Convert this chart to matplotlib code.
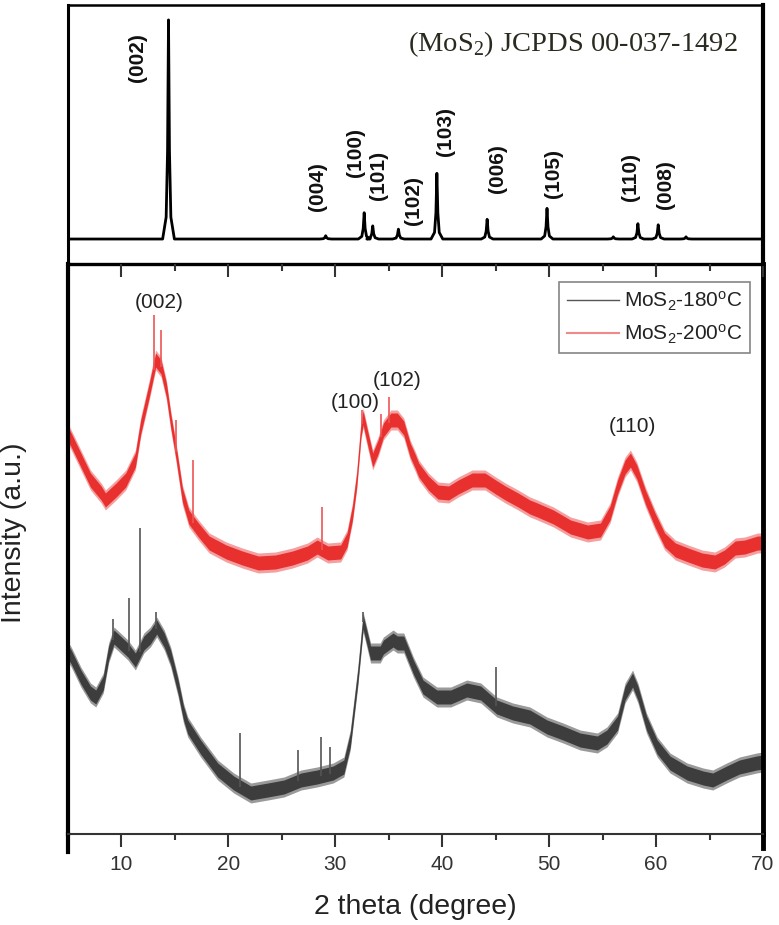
import matplotlib
matplotlib.use("Agg")
import matplotlib.pyplot as plt
from matplotlib.lines import Line2D
import numpy as np

plt.rcParams['font.family'] = ['Liberation Sans', 'DejaVu Sans']
plt.rcParams['mathtext.fontset'] = 'custom'
plt.rcParams['mathtext.rm'] = 'Liberation Sans'
plt.rcParams['mathtext.it'] = 'Liberation Sans:italic'
plt.rcParams['mathtext.bf'] = 'Liberation Sans:bold'
plt.rcParams['mathtext.cal'] = 'Liberation Serif'

# ---------------- data ----------------
# Reference pattern (JCPDS 00-037-1492), relative intensities
ref_pos = [14.4, 29.1, 32.7, 33.5, 35.9, 39.5, 44.2, 49.8, 56.0, 58.3, 60.2, 62.8]
ref_int = [100, 1.5, 12, 6, 4.5, 30, 9, 14, 1, 7, 6.5, 1]
ref_labels = ['(002)', '(004)', '(100)', '(101)', '(102)', '(103)',
              '(006)', '(105)', '(110)', '(008)']

# MoS2-200C (red) trace, 2theta and intensity (a.u.)
red_x = [5.0, 5.3, 6.2, 7.1, 8.1, 8.5, 9.5, 10.4, 11.3, 11.8, 12.6, 13.2, 13.7,
         14.2, 14.6, 15.1, 15.7, 16.3, 17.2, 18.2, 19.8, 21.3, 22.8, 24.4, 26.0,
         27.4, 28.3, 29.3, 30.5, 31.1, 31.6, 32.0, 32.4, 32.6, 33.0, 33.5, 34.0,
         34.5, 35.2, 35.8, 36.4, 37.0, 37.5, 37.8, 38.7, 39.6, 40.6, 41.5, 42.8,
         44.0, 45.0, 45.9, 47.1, 48.2, 48.9, 50.4, 52.0, 53.6, 54.8, 55.7, 56.4,
         57.1, 57.6, 58.2, 59.0, 59.9, 60.8, 61.8, 63.0, 64.3, 65.5, 66.4, 67.4,
         68.3, 69.5, 70.0]
red_y = [400, 394, 374, 354, 341, 334, 344, 354, 374, 407, 444, 474, 467,
         444, 414, 382, 339, 317, 304, 291, 282, 276, 271, 272, 276,
         281, 287, 281, 282, 294, 321, 354, 404, 416, 397, 374, 387,
         404, 414, 414, 406, 384, 372, 364, 351, 342, 341, 347, 354,
         354, 347, 341, 334, 327, 324, 317, 307, 302, 304, 321, 347,
         367, 374, 362, 337, 314, 294, 284, 279, 274, 272, 277, 286,
         287, 291, 291]
red_spike_x = [13.0, 13.7, 15.1, 16.7, 28.8, 32.5, 34.3, 35.0]
red_spike_y = [519, 504, 414, 374, 327, 424, 420, 437]

# MoS2-180C (grey) trace
gray_x = [5.0, 5.3, 6.2, 7.1, 7.6, 8.3, 8.8, 9.3, 9.9, 10.6, 11.3, 12.1, 12.7,
          13.3, 14.0, 14.6, 15.3, 15.8, 16.2, 17.4, 19.0, 20.5, 22.1, 23.7,
          25.2, 26.8, 28.3, 29.8, 30.8, 31.4, 32.1, 32.6, 33.3, 34.2, 34.5,
          35.4, 35.8, 36.4, 37.3, 38.2, 39.5, 40.8, 42.3, 43.6, 45.1, 46.6,
          48.2, 49.8, 51.3, 52.9, 54.5, 55.4, 56.4, 57.1, 57.8, 58.3, 59.1,
          60.1, 61.3, 62.9, 64.4, 65.3, 66.6, 67.8, 69.4, 70.0]
gray_y = [182, 177, 157, 141, 137, 151, 181, 197, 191, 184, 174, 191, 197,
          207, 194, 177, 147, 121, 107, 87, 64, 51, 41, 44,
          47, 54, 57, 61, 67, 94, 157, 212, 181, 181, 187,
          194, 191, 191, 167, 147, 137, 137, 144, 141, 127, 121,
          117, 107, 101, 94, 91, 97, 111, 141, 154, 141, 111,
          87, 71, 61, 56, 54, 61, 67, 71, 72]
gray_spike_x = [9.2, 10.7, 11.7, 13.2, 21.1, 26.5, 28.7, 29.5, 32.6, 45.0]
gray_spike_y = [215, 236, 306, 222, 101, 84, 97, 87, 222, 167]

series_names = [r'MoS$_2$-180$^{\mathrm{o}}$C', r'MoS$_2$-200$^{\mathrm{o}}$C']
phase_title = r'(MoS$_{\mathcal{2}}$) JCPDS 00-037-1492'
fit_labels = ['(002)', '(100)', '(102)', '(110)']
fit_label_pos = [(13.5, 531), (31.9, 431), (35.8, 454), (57.75, 407)]

# ---------------- figure ----------------
W, H = 779, 925
fig = plt.figure(figsize=(W / 100, H / 100), dpi=100)

def fx(px):
    return px / W

def fy(py):
    return 1 - py / H

L, R = 68, 763
ax = fig.add_axes([fx(L), fy(834), fx(R) - fx(L), fy(264) - fy(834)])
axt = fig.add_axes([fx(L), fy(264), fx(R) - fx(L), fy(5) - fy(264)])

major = [10, 20, 30, 40, 50, 60, 70]
minor = [15, 25, 35, 45, 55, 65]

# --- top panel: reference pattern ---
tx, ty = [5.0], [0.0]
prof_dx = [-0.55, -0.22, -0.09, 0.0, 0.09, 0.22, 0.55]
prof_fr = [0.0, 0.1, 0.4, 1.0, 0.4, 0.1, 0.0]
for p, h in zip(ref_pos, ref_int):
    for dx, fr in zip(prof_dx, prof_fr):
        tx.append(p + dx)
        ty.append(h * fr)
tx.append(70.0)
ty.append(0.0)
axt.plot(tx, ty, color='black', lw=2.0, solid_joinstyle='round')
axt.set_xlim(5, 70)
axt.set_ylim(-11.4, 106.8)
axt.set_yticks([])
axt.set_xticks(major)
axt.set_xticks(minor, minor=True)
axt.tick_params(axis='x', which='both', bottom=True, top=False,
                labelbottom=False, direction='out', color='#333333')
axt.tick_params(axis='x', which='major', length=9, width=1.5)
axt.tick_params(axis='x', which='minor', length=5, width=1.5)
axt.spines['bottom'].set_visible(False)
axt.spines['left'].set_linewidth(2.2)
axt.spines['top'].set_linewidth(1.8)
axt.spines['right'].set_linewidth(3.0)
axt.patch.set_alpha(0)

label_pos_top = [(11.54, 82.7), (28.34, 23.8), (31.89, 39.7), (34.04, 28.8),
                 (37.31, 17.4), (40.29, 48.9), (45.15, 32.0), (50.38, 29.7),
                 (57.57, 28.3), (60.84, 24.7)]
for lab, (x, y) in zip(ref_labels, label_pos_top):
    axt.text(x, y, lab, rotation=90, ha='center', va='center',
             fontsize=15, fontweight='bold', color='#111111')
axt.text(36.84, 89.1, phase_title, ha='left', va='center',
         fontsize=20.5, family='Liberation Serif', color='#2a2a20')

# --- bottom panel: measured patterns ---
hw = 7
gx = np.array(gray_x); gy = np.array(gray_y)
rx = np.array(red_x); ry = np.array(red_y)
ax.fill_between(gx, gy - hw - 3, gy + hw + 3, color='#9a9a9a', lw=0)
ax.fill_between(gx, gy - hw, gy + hw, color='#3d3d3d', lw=0)
ax.vlines(gray_spike_x, np.interp(gray_spike_x, gx, gy), gray_spike_y,
          color='#555555', lw=1.2)
ax.fill_between(rx, ry - hw - 3, ry + hw + 3, color='#f4a0a0', lw=0)
ax.fill_between(rx, ry - hw, ry + hw, color='#e8302f', lw=0)
ax.vlines(red_spike_x, np.interp(red_spike_x, rx, ry), red_spike_y,
          color='#ee5555', lw=1.2)

ax.set_xlim(5, 70)
ax.set_ylim(0, 570)
ax.set_yticks([])
ax.set_xticks(major)
ax.set_xticks(minor, minor=True)
ax.tick_params(axis='x', which='both', top=False, direction='out',
               labelsize=15, labelcolor='#333333', color='#333333')
ax.tick_params(axis='x', which='major', length=9, width=1.5, pad=6)
ax.tick_params(axis='x', which='minor', length=4.5, width=1.5)
ax.spines['left'].set_linewidth(3.0)
ax.spines['right'].set_linewidth(3.5)
ax.spines['top'].set_linewidth(2.4)
ax.spines['bottom'].set_linewidth(1.5)
ax.spines['bottom'].set_color('#333333')

# spine extensions below the axis
ext = (852 - 834) / 570
ax.add_line(Line2D([0, 0], [0, -ext], transform=ax.transAxes, color='black',
                   lw=3.0, clip_on=False))
ax.add_line(Line2D([1, 1], [0, -ext * 0.8], transform=ax.transAxes,
                   color='black', lw=3.5, clip_on=False))

handles = [Line2D([], [], color='#555555', lw=1.0),
           Line2D([], [], color='#f08a8a', lw=1.5)]
leg = ax.legend(handles, series_names, loc='upper right',
                bbox_to_anchor=(0.981, 0.968), borderaxespad=0,
                fontsize=15, frameon=True, fancybox=False, handlelength=2.5,
                handletextpad=0.25, borderpad=0.35, labelspacing=0.45)
leg.get_frame().set_edgecolor('#666666')
leg.get_frame().set_linewidth(1.2)
for t in leg.get_texts():
    t.set_color('#222222')

for lab, (x, y) in zip(fit_labels, fit_label_pos):
    ax.text(x, y, lab, ha='center', va='center', fontsize=15, color='#222222')

ax.text(0.5, (834 - 907) / 570, '2 theta (degree)', transform=ax.transAxes,
        ha='center', va='center', fontsize=20.5, color='#222222')
ax.text((14 - 68) / 695, (834 - 533) / 570, 'Intensity (a.u.)',
        transform=ax.transAxes, rotation=90, ha='center', va='center',
        fontsize=20.5, color='#222222')

fig.savefig('out.png', dpi=100)
